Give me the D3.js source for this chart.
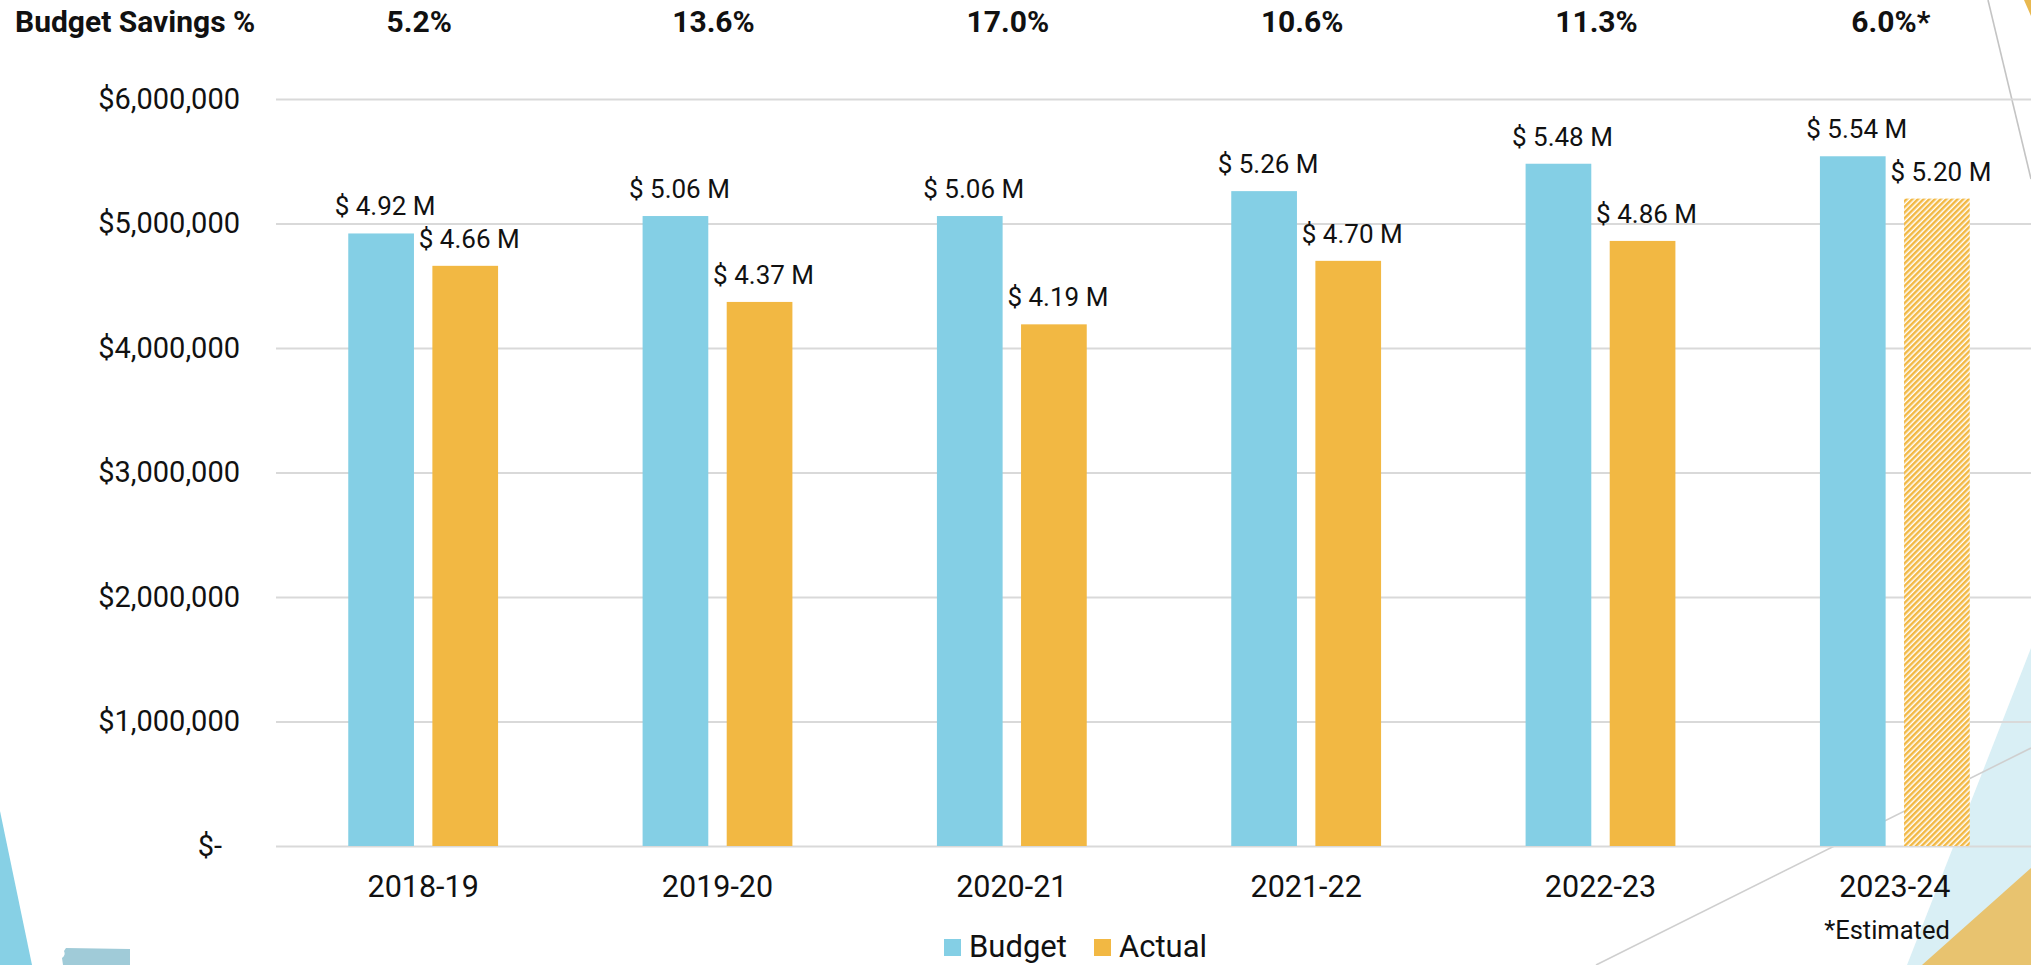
<!DOCTYPE html>
<html>
<head>
<meta charset="utf-8">
<script src="https://cdn.jsdelivr.net/npm/d3@7/dist/d3.min.js"></script>
<style>
  html, body { margin: 0; padding: 0; background: #ffffff; }
  svg { display: block; font-family: Roboto, "Open Sans", sans-serif; }
</style>
</head>
<body>
<svg id="chart" width="2031" height="965"></svg>
<script>
// ---------- data ----------
const categories = ["2018-19", "2019-20", "2020-21", "2021-22", "2022-23", "2023-24"];
const seriesNames = ["Budget", "Actual"];
const budget = [4.92, 5.06, 5.06, 5.26, 5.48, 5.54];   // $ millions
const actual = [4.66, 4.37, 4.19, 4.70, 4.86, 5.20];   // $ millions
const estimated = [false, false, false, false, false, true];
const savingsLabels = ["5.2%", "13.6%", "17.0%", "10.6%", "11.3%", "6.0%*"];
const yTicks = [0, 1000000, 2000000, 3000000, 4000000, 5000000, 6000000];
const headerLabel = "Budget Savings %";
const footnote = "*Estimated";

// ---------- setup ----------
const W = 2031, H = 965;
const svg = d3.select("#chart");
const colors = { Budget: "#84CFE5", Actual: "#F2B843" };
const gridColor = "#D9D9D9";

const x = d3.scaleBand().domain(categories).range([276, 2042]).paddingInner(0).paddingOuter(0);
const bw = x.bandwidth();
const xs = d3.scaleBand().domain(seriesNames).range([bw * 0.2455, bw * 0.7545]).paddingInner(0.219);
const y = d3.scaleLinear().domain([0, 6000000]).range([846, 99]);

// hatch pattern
const defs = svg.append("defs");
const pat = defs.append("pattern")
  .attr("id", "hatch").attr("patternUnits", "userSpaceOnUse")
  .attr("width", 4).attr("height", 4)
  .attr("patternTransform", "rotate(45)");
pat.append("rect").attr("width", 4).attr("height", 4).attr("fill", "#ffffff");
pat.append("rect").attr("x", 0).attr("y", 0).attr("width", 2.5).attr("height", 4).attr("fill", colors.Actual);

// ---------- background decorations ----------
const deco = svg.append("g");
deco.append("polygon").attr("points", "2031,648 1907,965 2031,965").attr("fill", "#D9EFF5");
deco.append("polygon").attr("points", "2031,868 1922,965 2031,965").attr("fill", "#E8C36F");
deco.append("line").attr("x1", 1596).attr("y1", 965).attr("x2", 2031).attr("y2", 748)
  .attr("stroke", "#CFCFCF").attr("stroke-width", 1.6);
deco.append("line").attr("x1", 1988).attr("y1", 0).attr("x2", 2031).attr("y2", 179)
  .attr("stroke", "#C4C4C4").attr("stroke-width", 1.6);
deco.append("polygon").attr("points", "2024,0 2031,0 2031,16").attr("fill", "#E8B84F");
deco.append("polygon").attr("points", "0,811 32,965 0,965").attr("fill", "#87D0E5");
deco.append("path").attr("d", "M66,948 L130,949 L130,965 L63,965 L62,958 Q66,955 64,951 Z").attr("fill", "#A0CBD8");

// ---------- grid + y axis ----------
const yAxis = d3.axisLeft(y).tickValues(yTicks)
  .tickSize(-(W - 276))
  .tickPadding(36)
  .tickFormat(d => d === 0 ? "$-" : "$" + d3.format(",")(d));
const gy = svg.append("g").attr("transform", "translate(276,0)").call(yAxis);
gy.select(".domain").remove();
gy.selectAll(".tick line").attr("stroke", gridColor).attr("stroke-width", 2);
gy.selectAll(".tick text")
  .attr("font-size", 29).attr("fill", "#111")
  .attr("font-family", "Roboto, sans-serif")
  .attr("dx", d => d === 0 ? -18 : 0);

// ---------- bars ----------
const groups = svg.append("g").selectAll("g").data(categories).join("g")
  .attr("transform", d => `translate(${x(d)},0)`);

groups.each(function(cat, i) {
  const g = d3.select(this);
  const vals = [
    { s: "Budget", v: budget[i], est: false },
    { s: "Actual", v: actual[i], est: estimated[i] }
  ];
  g.selectAll("rect.bar").data(vals).join("rect").attr("class", "bar")
    .attr("x", d => xs(d.s))
    .attr("width", xs.bandwidth())
    .attr("y", d => y(d.v * 1e6))
    .attr("height", d => y(0) - y(d.v * 1e6))
    .attr("fill", d => d.est ? "url(#hatch)" : colors[d.s]);
  g.selectAll("text.val").data(vals).join("text").attr("class", "val")
    .attr("x", d => xs(d.s) + xs.bandwidth() / 2 + 4)
    .attr("y", d => y(d.v * 1e6) - 18)
    .attr("text-anchor", "middle")
    .attr("font-size", 26).attr("fill", "#111")
    .text(d => "$ " + d.v.toFixed(2) + " M");
});

// ---------- x axis labels ----------
svg.append("g").selectAll("text").data(categories).join("text")
  .attr("x", d => x(d) + bw / 2)
  .attr("y", 897)
  .attr("text-anchor", "middle")
  .attr("font-size", 30.5).attr("fill", "#111")
  .text(d => d);

svg.append("text")
  .attr("x", x(categories[5]) + bw / 2 + 55)
  .attr("y", 939)
  .attr("text-anchor", "end")
  .attr("font-size", 25.5).attr("fill", "#111")
  .text(footnote);

// ---------- header row ----------
svg.append("text").attr("x", 15).attr("y", 32)
  .attr("font-size", 30).attr("font-weight", "bold").attr("fill", "#111")
  .text(headerLabel);
svg.append("g").selectAll("text").data(savingsLabels).join("text")
  .attr("x", (d, i) => x(categories[i]) + bw / 2 - 4)
  .attr("y", 32)
  .attr("text-anchor", "middle")
  .attr("font-size", 30).attr("font-weight", "bold").attr("fill", "#111")
  .text(d => d);

// ---------- legend ----------
const legendX = [944, 1094];
const lg = svg.append("g").selectAll("g").data(seriesNames).join("g")
  .attr("transform", (d, i) => `translate(${legendX[i]},939)`);
lg.append("rect").attr("width", 17).attr("height", 17).attr("fill", d => colors[d]);
lg.append("text").attr("x", 25).attr("y", 18).attr("font-size", 31).attr("fill", "#111").text(d => d);
</script>
</body>
</html>
